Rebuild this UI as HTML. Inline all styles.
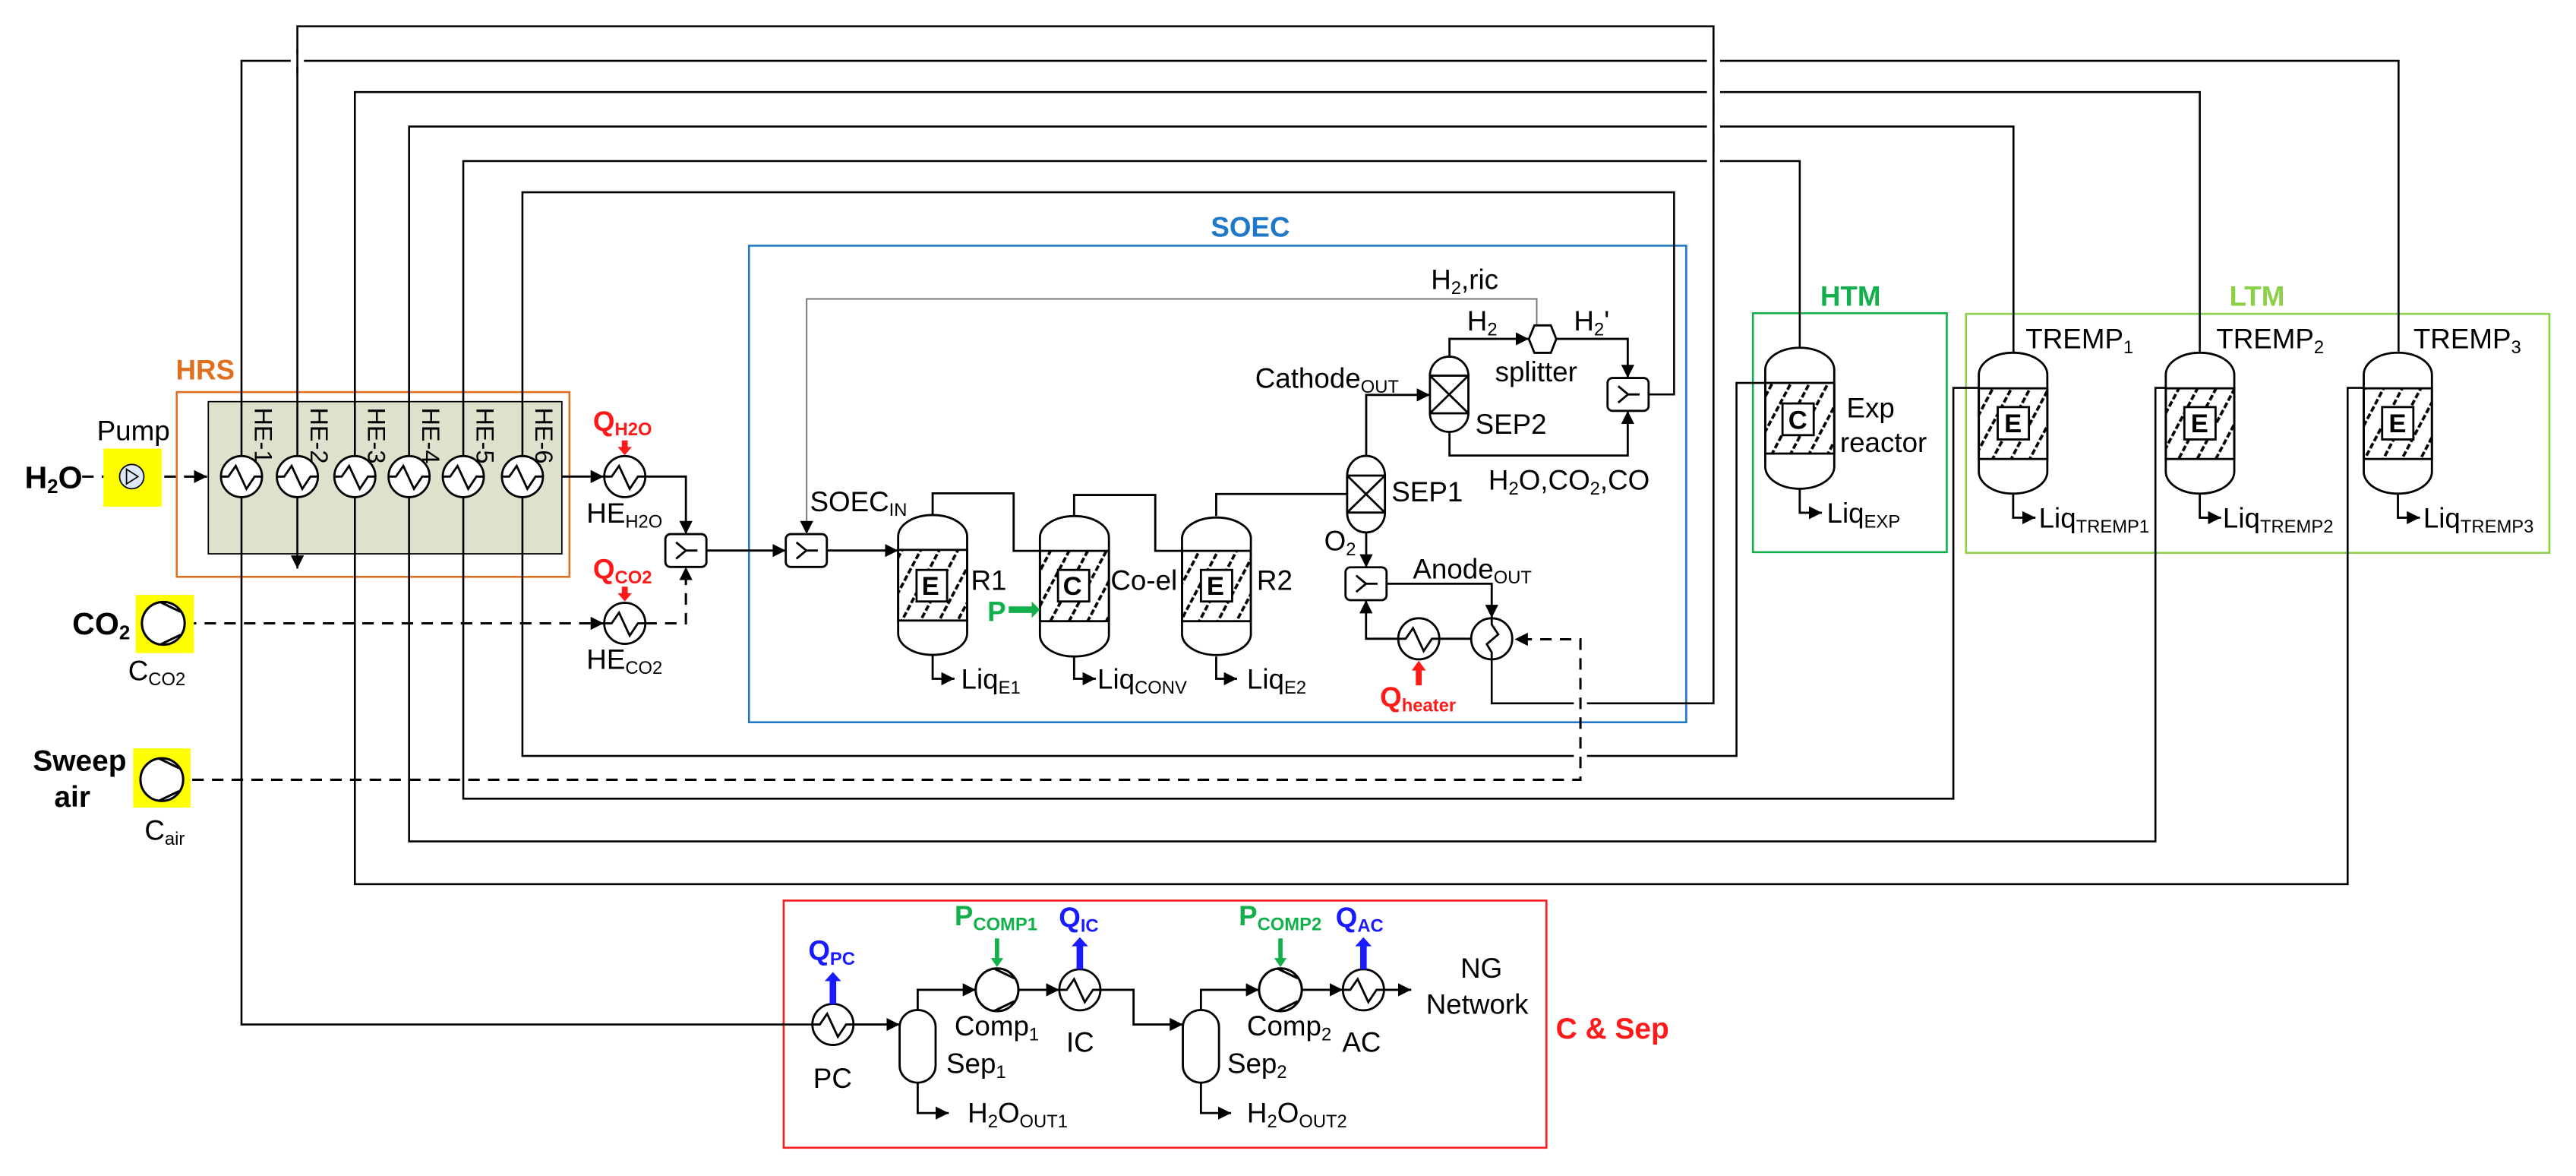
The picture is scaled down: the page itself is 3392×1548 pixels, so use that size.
<!DOCTYPE html>
<html><head><meta charset="utf-8"><style>
html,body{margin:0;padding:0;background:#fff;}
svg{display:block;}
text{font-family:"Liberation Sans",Arial,sans-serif;font-size:17px;fill:#000;}
.b{font-weight:bold;}
.s{font-size:11px;}
</style></head><body>
<svg width="3392" height="1548" viewBox="0 0 1568 715.6" preserveAspectRatio="none" xmlns="http://www.w3.org/2000/svg">
<defs>
<marker id="a" viewBox="0 0 10 10" refX="10" refY="5" markerWidth="8" markerHeight="8" markerUnits="userSpaceOnUse" orient="auto"><path d="M0,0 L10,5 L0,10z" fill="#000"/></marker>
<pattern id="h" width="10" height="10" patternUnits="userSpaceOnUse" patternTransform="rotate(28)"><line x1="2" y1="0" x2="2" y2="10" stroke="#000" stroke-width="1.7" stroke-dasharray="3.5 1.5"/></pattern>
<g id="hx"><circle r="12.5" fill="#fff" stroke="#000" stroke-width="1.3"/><path d="M-12.5,0 L-8,0 L-3.5,-6.5 L3,7.5 L8,0 L12.5,0" fill="none" stroke="#000" stroke-width="1.3"/></g>
<g id="cmp"><circle r="13" fill="#fff" stroke="#000" stroke-width="1.4"/><path d="M-2,-13 L10.5,-7 M-2,13 L10.5,7" stroke="#000" stroke-width="1.4"/></g>
<g id="mix"><rect x="-12.5" y="-10" width="25" height="20" rx="3" fill="#fff" stroke="#000" stroke-width="1.3"/><path d="M-6,-5 L0,0 L-6,5 M0,0 L7,0" fill="none" stroke="#000" stroke-width="1.3"/></g>
</defs>

<rect x="107.6" y="238.6" width="239" height="112.4" fill="none" stroke="#e07020" stroke-width="1.2"/>
<rect x="126.8" y="244.4" width="215.2" height="92.6" fill="#dde2cc" stroke="#000" stroke-width="0.8"/>
<rect x="455.9" y="149.5" width="570.5" height="290" fill="none" stroke="#1f78c8" stroke-width="1.2"/>
<rect x="1067" y="190.6" width="118" height="145.4" fill="none" stroke="#12b04a" stroke-width="1.2"/>
<rect x="1196.7" y="191" width="355.1" height="145.4" fill="none" stroke="#8cd04a" stroke-width="1.2"/>
<rect x="477" y="548" width="464.3" height="150.4" fill="none" stroke="#ff1a1a" stroke-width="1.2"/>

<g fill="none" stroke="#000" stroke-width="1.2">
<path d="M908,401 L908,428 L1043,428 L1043,16 L181,16 L181,346" marker-end="url(#a)"/>
<path d="M1460,214 L1460,37 L147,37 L147,623.4 L495,623.4"/>
<path d="M1339,214.7 V56 H216 V538 H1429 V236 H1439"/>
<path d="M1225.6,214.7 V77 H249 V512 H1312 V236 H1318.3"/>
<path d="M1095.5,211.6 V98 H282 V486 H1189 V236 H1204.5"/>
<path d="M1003.8,240 H1019 V117 H318 V460 H1057 V233 H1074.5"/>
</g>
<g fill="#fff">
<rect x="1039" y="33" width="8" height="8"/><rect x="1039" y="52" width="8" height="8"/><rect x="1039" y="73" width="8" height="8"/><rect x="1039" y="94" width="8" height="8"/>
<rect x="177" y="33" width="8" height="8"/>
<rect x="958" y="424" width="8" height="8"/><rect x="958" y="456" width="8" height="8"/>
</g>
<g stroke="#000" stroke-width="1.2">
<line x1="1043" y1="30" x2="1043" y2="105"/>
<line x1="181" y1="30" x2="181" y2="45"/>
</g>

<g fill="none" stroke="#000" stroke-width="1.4" stroke-dasharray="7 5">
<path d="M117,474.5 H962 V389 H922" marker-end="url(#a)"/>
<path d="M112.5,379.3 H367.5" marker-end="url(#a)"/>
<path d="M392.8,379.3 H417.5 V345" marker-end="url(#a)"/>
<path d="M88,290 H126" marker-end="url(#a)"/>
<path d="M50,290 H72"/>
</g>

<use href="#hx" x="147" y="290"/><use href="#hx" x="181" y="290"/><use href="#hx" x="216" y="290"/>
<use href="#hx" x="249" y="290"/><use href="#hx" x="282" y="290"/><use href="#hx" x="318" y="290"/>
<text x="155" y="248" transform="rotate(90 155 248)" style="font-size:15px">HE-1</text>
<text x="189" y="248" transform="rotate(90 189 248)" style="font-size:15px">HE-2</text>
<text x="224" y="248" transform="rotate(90 224 248)" style="font-size:15px">HE-3</text>
<text x="257" y="248" transform="rotate(90 257 248)" style="font-size:15px">HE-4</text>
<text x="290" y="248" transform="rotate(90 290 248)" style="font-size:15px">HE-5</text>
<text x="326" y="248" transform="rotate(90 326 248)" style="font-size:15px">HE-6</text>
<text x="107" y="231" class="b" style="fill:#e07020">HRS</text>

<rect x="63" y="273" width="35.5" height="35.3" fill="#ffff00"/>
<circle cx="80.2" cy="290" r="7.4" fill="#dde8f4" stroke="#000" stroke-width="0.8"/>
<path d="M77,285.5 L84,290 L77,294.5z" fill="none" stroke="#000" stroke-width="0.8"/>
<text x="59" y="268">Pump</text>
<text x="15" y="297" class="b" style="font-size:19px">H<tspan dy="3" style="font-size:12px">2</tspan><tspan dy="-3">O</tspan></text>

<rect x="82.6" y="362" width="35.4" height="35.4" fill="#ffff00"/>
<use href="#cmp" x="99.4" y="379.3"/>
<text x="44" y="386" class="b" style="font-size:19px">CO<tspan dy="3" style="font-size:12px">2</tspan></text>
<text x="78" y="414">C<tspan class="s" dy="3">CO2</tspan></text>

<rect x="81" y="455.4" width="35" height="36" fill="#ffff00"/>
<use href="#cmp" x="98.5" y="474.4"/>
<text x="20" y="469" class="b" style="font-size:18px">Sweep</text>
<text x="33" y="491" class="b" style="font-size:18px">air</text>
<text x="88" y="511">C<tspan class="s" dy="3">air</tspan></text>

<g fill="none" stroke="#000" stroke-width="1.3">
<path d="M342,290 H367.5" marker-end="url(#a)"/>
<path d="M392.8,290 H417.5 V325" marker-end="url(#a)"/>
<path d="M430,335 H478.3" marker-end="url(#a)"/>
<path d="M503.2,335 H546.7" marker-end="url(#a)"/>
</g>
<use href="#hx" x="380.3" y="290"/>
<use href="#hx" x="380.3" y="379.3"/>
<use href="#mix" x="417.5" y="335"/>
<use href="#mix" x="490.8" y="335"/>
<path d="M378.5,268 h3.6 v4 h2.5 l-4.3,5 l-4.3,-5 h2.5z" fill="#ff1a1a"/>
<path d="M378.5,357 h3.6 v4 h2.5 l-4.3,5 l-4.3,-5 h2.5z" fill="#ff1a1a"/>
<text x="361" y="262" class="b" style="fill:#ff1a1a">Q<tspan dy="3" style="font-size:11px;fill:#ff1a1a">H2O</tspan></text>
<text x="357" y="318">HE<tspan class="s" dy="3">H2O</tspan></text>
<text x="361" y="352" class="b" style="fill:#ff1a1a">Q<tspan dy="3" style="font-size:11px;fill:#ff1a1a">CO2</tspan></text>
<text x="357" y="407">HE<tspan class="s" dy="3">CO2</tspan></text>

<text x="737" y="144" class="b" style="fill:#1f78c8">SOEC</text>
<g fill="none" stroke="#000" stroke-width="1.3">
<path d="M567.7,313.4 V300.2 H617 V335.2 H633"/>
<path d="M653.8,314 V301.2 H703.2 V335.2 H719.5"/>
<path d="M740.3,314 V300.6 H820"/>
<path d="M831.6,277.4 V240.3 H870.4" marker-end="url(#a)"/>
<path d="M882.3,217 V206.2 H930.6" marker-end="url(#a)"/>
<path d="M947.3,206.2 H990.8 V230" marker-end="url(#a)"/>
<path d="M882.3,262.8 V277.2 H990.8 V250" marker-end="url(#a)"/>
<path d="M831.6,324 V345.3" marker-end="url(#a)"/>
<path d="M844,355.2 H908 V376" marker-end="url(#a)"/>
<path d="M895.5,388.7 H876"/>
<path d="M851,388.7 H831.5 V365.2" marker-end="url(#a)"/>
<path d="M567.7,398.5 V413 H581" marker-end="url(#a)"/>
<path d="M653.8,399.5 V413 H667" marker-end="url(#a)"/>
<path d="M740.3,399.5 V413 H753" marker-end="url(#a)"/>
</g>
<path d="M935.4,198 V181.9 H491 V325" fill="none" stroke="#777" stroke-width="0.9" marker-end="url(#a)"/>

<g stroke="#000" stroke-width="1.3">
<path d="M546.7,326.4 A21,13 0 0 1 588.7,326.4 L588.7,385.5 A21,13 0 0 1 546.7,385.5 Z" fill="#fff"/>
<rect x="546.7" y="334.6" width="42" height="43" fill="url(#h)"/>
<rect x="557.9" y="346.8" width="18.6" height="19.2" fill="#fff"/>
<path d="M633,327 A21,13 0 0 1 675,327 L675,386.5 A21,13 0 0 1 633,386.5 Z" fill="#fff"/>
<rect x="633" y="335.2" width="42" height="42.8" fill="url(#h)"/>
<rect x="644" y="346.8" width="19" height="19.2" fill="#fff"/>
<path d="M719.5,327 A21,13 0 0 1 761.4,327 L761.4,386.5 A21,13 0 0 1 719.5,386.5 Z" fill="#fff"/>
<rect x="719.5" y="335.2" width="41.9" height="42.8" fill="url(#h)"/>
<rect x="731" y="346.8" width="19" height="19.2" fill="#fff"/>
<path d="M820,289.4 A11.5,12 0 0 1 843,289.4 L843,312 A11.5,12 0 0 1 820,312 Z" fill="#fff"/>
<rect x="820" y="289.4" width="23" height="22.5" fill="#fff"/>
<path d="M820,289.4 L843,311.9 M843,289.4 L820,311.9" fill="none"/>
<path d="M870.4,228.6 A11.7,11.6 0 0 1 893.8,228.6 L893.8,251.5 A11.7,11.3 0 0 1 870.4,251.5 Z" fill="#fff"/>
<rect x="870.4" y="228.6" width="23.4" height="22.9" fill="#fff"/>
<path d="M870.4,228.6 L893.8,251.5 M893.8,228.6 L870.4,251.5" fill="none"/>
<path d="M934,198 L944,198 L947.3,206.3 L944,214.7 L934,214.7 L930.6,206.3 Z" fill="#fff"/>
</g>
<text x="561" y="362" class="b" style="font-size:16px">E</text>
<text x="647" y="362" class="b" style="font-size:16px">C</text>
<text x="734.5" y="362" class="b" style="font-size:16px">E</text>
<use href="#mix" x="991" y="240"/>
<use href="#mix" x="831.5" y="355.2"/>
<use href="#hx" x="863.6" y="388.7"/>
<circle cx="908" cy="388.7" r="12.5" fill="#fff" stroke="#000" stroke-width="1.3"/>
<path d="M908,376.2 L908,380 L912,386 L905,392 L908,397 L908,401.2" fill="none" stroke="#000" stroke-width="1.3"/>
<path d="M861.8,417 h3.6 v-9 h2.5 l-4.3,-6 l-4.3,6 h2.5z" fill="#ff1a1a"/>
<path d="M614,369 h14 v-3 l5,5 l-5,5 v-3 h-14z" fill="#12b04a"/>

<text x="871" y="176">H<tspan class="s" dy="3">2</tspan><tspan dy="-3">,ric</tspan></text>
<text x="893" y="201">H<tspan class="s" dy="3">2</tspan></text>
<text x="958" y="201">H<tspan class="s" dy="3">2</tspan><tspan dy="-3">'</tspan></text>
<text x="910" y="232">splitter</text>
<text x="764" y="236">Cathode<tspan class="s" dy="3">OUT</tspan></text>
<text x="898" y="264">SEP2</text>
<text x="847" y="305">SEP1</text>
<text x="906" y="298">H<tspan class="s" dy="3">2</tspan><tspan dy="-3">O,CO</tspan><tspan class="s" dy="3">2</tspan><tspan dy="-3">,CO</tspan></text>
<text x="493" y="311">SOEC<tspan class="s" dy="3">IN</tspan></text>
<text x="591" y="359">R1</text>
<text x="676" y="359">Co-el</text>
<text x="765" y="359">R2</text>
<text x="601" y="378" class="b" style="fill:#12b04a">P</text>
<text x="806" y="335">O<tspan class="s" dy="3">2</tspan></text>
<text x="860" y="352">Anode<tspan class="s" dy="3">OUT</tspan></text>
<text x="585" y="419">Liq<tspan class="s" dy="3">E1</tspan></text>
<text x="668" y="419">Liq<tspan class="s" dy="3">CONV</tspan></text>
<text x="759" y="419">Liq<tspan class="s" dy="3">E2</tspan></text>
<text x="840" y="430" class="b" style="fill:#ff1a1a">Q<tspan dy="3" style="font-size:11px;fill:#ff1a1a">heater</tspan></text>

<g stroke="#000" stroke-width="1.3">
<path d="M1074.5,225 A21,13.4 0 0 1 1116.5,225 L1116.5,284 A21,13.4 0 0 1 1074.5,284 Z" fill="#fff"/>
<rect x="1074.5" y="233" width="42" height="43" fill="url(#h)"/>
<rect x="1085" y="245.5" width="19" height="19.3" fill="#fff"/>
<path d="M1204.5,228 A20.85,13.4 0 0 1 1246.2,228 L1246.2,287 A20.85,13.4 0 0 1 1204.5,287 Z" fill="#fff"/>
<rect x="1204.5" y="236.3" width="41.7" height="43" fill="url(#h)"/>
<rect x="1216" y="247.7" width="19" height="19.7" fill="#fff"/>
<path d="M1318.3,228 A20.85,13.4 0 0 1 1360,228 L1360,287 A20.85,13.4 0 0 1 1318.3,287 Z" fill="#fff"/>
<rect x="1318.3" y="236.3" width="41.7" height="43" fill="url(#h)"/>
<rect x="1329.6" y="247.7" width="19" height="19.7" fill="#fff"/>
<path d="M1438.8,228 A20.75,13.4 0 0 1 1480.3,228 L1480.3,287 A20.75,13.4 0 0 1 1438.8,287 Z" fill="#fff"/>
<rect x="1438.8" y="236.3" width="41.5" height="43" fill="url(#h)"/>
<rect x="1450" y="247.7" width="19" height="19.7" fill="#fff"/>
</g>
<text x="1088.5" y="261" class="b" style="font-size:16px">C</text>
<text x="1220" y="263" class="b" style="font-size:16px">E</text>
<text x="1333.5" y="263" class="b" style="font-size:16px">E</text>
<text x="1454" y="263" class="b" style="font-size:16px">E</text>
<g fill="none" stroke="#000" stroke-width="1.3">
<path d="M1095.5,297.4 V312 H1109" marker-end="url(#a)"/>
<path d="M1225.4,300.5 V315 H1239" marker-end="url(#a)"/>
<path d="M1339,300.5 V315 H1352" marker-end="url(#a)"/>
<path d="M1459.6,300.5 V315 H1473" marker-end="url(#a)"/>
</g>
<text x="1108" y="186" class="b" style="fill:#12b04a">HTM</text>
<text x="1357" y="186" class="b" style="fill:#8cd04a">LTM</text>
<text x="1124" y="254">Exp</text>
<text x="1120" y="275">reactor</text>
<text x="1233" y="212">TREMP<tspan class="s" dy="3">1</tspan></text>
<text x="1349" y="212">TREMP<tspan class="s" dy="3">2</tspan></text>
<text x="1469" y="212">TREMP<tspan class="s" dy="3">3</tspan></text>
<text x="1112" y="318">Liq<tspan class="s" dy="3">EXP</tspan></text>
<text x="1241" y="321">Liq<tspan class="s" dy="3">TREMP1</tspan></text>
<text x="1353" y="321">Liq<tspan class="s" dy="3">TREMP2</tspan></text>
<text x="1475" y="321">Liq<tspan class="s" dy="3">TREMP3</tspan></text>

<g fill="none" stroke="#000" stroke-width="1.3">
<path d="M519,623.4 H547.6" marker-end="url(#a)"/>
<path d="M558.6,614.6 V602.3 H594" marker-end="url(#a)"/>
<path d="M619.8,602.3 H644.8" marker-end="url(#a)"/>
<path d="M669.8,602.3 H690 V623.4 H720" marker-end="url(#a)"/>
<path d="M731,614.6 V602.3 H766.4" marker-end="url(#a)"/>
<path d="M792.4,602.3 H817.4" marker-end="url(#a)"/>
<path d="M842.4,602.3 H859" marker-end="url(#a)"/>
<path d="M558.6,658.8 V677.3 H577.5" marker-end="url(#a)"/>
<path d="M731,658.8 V677.3 H749.4" marker-end="url(#a)"/>
</g>
<g stroke="#000" stroke-width="1.3" fill="#fff">
<path d="M547.6,625 A10.95,10.4 0 0 1 569.5,625 L569.5,648.4 A10.95,10.4 0 0 1 547.6,648.4 Z"/>
<path d="M720,625 A11,10.4 0 0 1 742,625 L742,648.4 A11,10.4 0 0 1 720,648.4 Z"/>
</g>
<use href="#hx" x="507" y="623.4"/>
<use href="#cmp" x="606.9" y="602.3"/>
<use href="#hx" x="657.3" y="602.3"/>
<use href="#cmp" x="779.4" y="602.3"/>
<use href="#hx" x="829.9" y="602.3"/>
<path d="M505,611 v-14 h-3 l5,-5.5 l5,5.5 h-3 v14z" fill="#1a1aff"/>
<path d="M655.3,589.8 v-14 h-3 l5,-5.5 l5,5.5 h-3 v14z" fill="#1a1aff"/>
<path d="M827.9,589.8 v-14 h-3 l5,-5.5 l5,5.5 h-3 v14z" fill="#1a1aff"/>
<path d="M605.6,571 h2.6 v12 h2.5 l-3.8,5.5 l-3.8,-5.5 h2.5z" fill="#12b04a"/>
<path d="M778.1,571 h2.6 v12 h2.5 l-3.8,5.5 l-3.8,-5.5 h2.5z" fill="#12b04a"/>
<text x="492" y="584" class="b" style="fill:#1a1aff">Q<tspan dy="3" style="font-size:11px;fill:#1a1aff">PC</tspan></text>
<text x="581" y="563" class="b" style="fill:#12b04a">P<tspan dy="3" style="font-size:11px;fill:#12b04a">COMP1</tspan></text>
<text x="644.5" y="564" class="b" style="fill:#1a1aff">Q<tspan dy="3" style="font-size:11px;fill:#1a1aff">IC</tspan></text>
<text x="754" y="563" class="b" style="fill:#12b04a">P<tspan dy="3" style="font-size:11px;fill:#12b04a">COMP2</tspan></text>
<text x="813" y="564" class="b" style="fill:#1a1aff">Q<tspan dy="3" style="font-size:11px;fill:#1a1aff">AC</tspan></text>
<text x="495" y="662">PC</text>
<text x="581" y="630">Comp<tspan class="s" dy="3">1</tspan></text>
<text x="649" y="640">IC</text>
<text x="576" y="653">Sep<tspan class="s" dy="3">1</tspan></text>
<text x="759" y="630">Comp<tspan class="s" dy="3">2</tspan></text>
<text x="817" y="640">AC</text>
<text x="747" y="653">Sep<tspan class="s" dy="3">2</tspan></text>
<text x="889" y="595">NG</text>
<text x="868" y="617">Network</text>
<text x="589" y="683">H<tspan class="s" dy="3">2</tspan><tspan dy="-3">O</tspan><tspan class="s" dy="3">OUT1</tspan></text>
<text x="759" y="683">H<tspan class="s" dy="3">2</tspan><tspan dy="-3">O</tspan><tspan class="s" dy="3">OUT2</tspan></text>
<text x="947" y="632" class="b" style="fill:#ff1a1a;font-size:18px">C &amp; Sep</text>
</svg>
</body></html>
